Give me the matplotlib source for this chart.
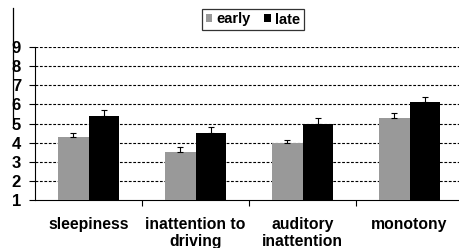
import matplotlib
matplotlib.use('Agg')
import matplotlib.pyplot as plt
import numpy as np
from matplotlib.patches import Patch
from matplotlib.lines import Line2D

plt.rcParams["font.family"] = ["Liberation Sans", "DejaVu Sans"]
plt.rcParams["font.weight"] = "bold"

categories = ["sleepiness", "inattention to\ndriving", "auditory\ninattention", "monotony"]
early = [4.3, 3.5, 4.0, 5.3]
early_err = [0.22, 0.25, 0.15, 0.27]
late = [5.4, 4.5, 5.0, 6.1]
late_err = [0.3, 0.3, 0.3, 0.27]
yticks = [1, 2, 3, 4, 5, 6, 7, 8, 9]

fig = plt.figure(figsize=(4.6, 2.48), dpi=100)
ax = fig.add_axes([35 / 460, 1 - 200 / 248, 428 / 460, 153 / 248])

x = np.arange(len(categories))
w = 0.285
ax.bar(x - w / 2, early, w, color='#999999', edgecolor='none', zorder=3,
       yerr=[np.zeros(4), early_err], error_kw=dict(ecolor='black', elinewidth=0.8, capsize=2.5, capthick=0.8))
ax.bar(x + w / 2, late, w, color='black', edgecolor='none', zorder=3,
       yerr=[np.zeros(4), late_err], error_kw=dict(ecolor='black', elinewidth=0.8, capsize=2.5, capthick=0.8))

ax.set_xlim(-0.5, 3.5)
ax.set_ylim(1, 9)
ax.set_yticks(yticks)
ax.set_yticklabels([str(t) for t in yticks], fontsize=12, fontweight='bold')
for t in yticks[1:]:
    ax.axhline(t, color='black', linestyle=(0, (2.5, 1.5)), linewidth=0.8, zorder=1)

ax.set_xticks([0.5, 1.5, 2.5])
ax.set_xticklabels([])
ax.set_xticks(x, minor=True)
ax.set_xticklabels(categories, minor=True, fontsize=11.3, fontweight='bold', linespacing=1.2)
ax.tick_params(axis='x', which='minor', length=0, pad=12)
ax.tick_params(axis='x', which='major', length=4, width=0.8, direction='out')
ax.tick_params(axis='y', length=4, width=0.8, direction='out', pad=6)

ax.spines['top'].set_visible(False)
ax.spines['right'].set_visible(False)
ax.spines['left'].set_linewidth(0.8)
ax.spines['bottom'].set_linewidth(0.8)

handles = [Patch(facecolor='#999999', label='early'), Patch(facecolor='black', label='late')]
leg = fig.legend(handles=handles, loc='center', bbox_to_anchor=(253 / 460, 1 - 19.5 / 248), ncol=2,
                 frameon=True, fancybox=False, handlelength=0.45, handleheight=0.45, handletextpad=0.3,
                 columnspacing=0.9, borderpad=0.25, prop={'weight': 'bold', 'size': 10.5})
leg.get_frame().set_edgecolor('black')
leg.get_frame().set_linewidth(0.9)

# stray border line at the left edge of the original
fig.add_artist(Line2D([13 / 460, 13 / 460], [1 - 8 / 248, 1 - 127 / 248], color='black', linewidth=0.9))

fig.savefig('out.png', dpi=100)
